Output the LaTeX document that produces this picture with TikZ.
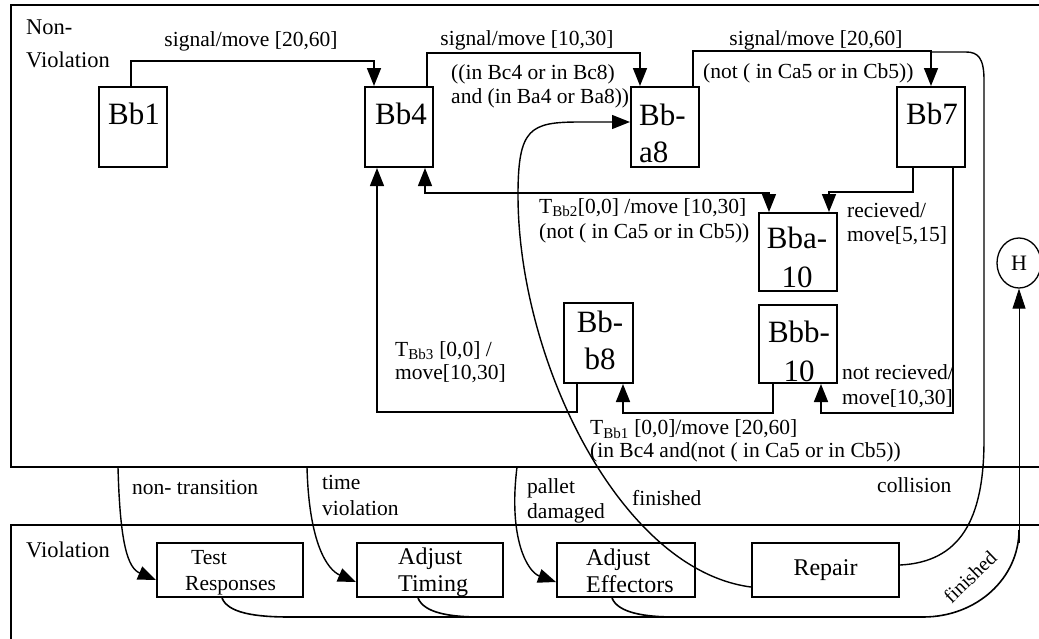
\documentclass[tikz,border=0pt]{standalone}
\usepackage{fontspec}
\setmainfont{Liberation Serif}
\usetikzlibrary{arrows.meta,shapes.geometric}
\begin{document}
\begin{tikzpicture}[x=1pt,y=-1pt,
  bigtri/.tip={Triangle[length=18pt,width=14pt]},
  frame/.style={line width=2.2pt},
  statebox/.style={draw, line width=2pt, inner sep=0pt, minimum width=68pt, minimum height=80pt},
  actbox/.style={draw, line width=2pt, inner sep=0pt, minimum height=54pt},
  bigtxt/.style={font=\fontsize{31}{37}\selectfont, inner sep=0pt, align=center},
  acttxt/.style={font=\fontsize{24}{27}\selectfont, inner sep=0pt, align=left, anchor=west},
  lbl/.style={font=\fontsize{21.5}{24}\selectfont, inner sep=0pt, align=left},
  conn/.style={line width=1.6pt, -bigtri},
  curve/.style={line width=1.4pt},
]
\useasboundingbox (0,0) rectangle (1039,638);
\clip (0,0) rectangle (1039,638);

% frames
\draw[frame] (1060,5) -- (11,5) -- (11,467) -- (1060,467);
\draw[frame] (1060,525) -- (11,525) -- (11,660);
\node[lbl, anchor=west, font=\fontsize{22.5}{33}\selectfont] (nvt) at (26,44) {Non-\\Violation};
\node[lbl, anchor=west, font=\fontsize{22.5}{26}\selectfont] (vt) at (26,550) {Violation};

% states
\node[statebox] (bb1) at (133,127) {};
\node[statebox] (bb4) at (399,127) {};
\node[statebox] (bba8) at (665,127) {};
\node[statebox] (bb7) at (931,127) {};
\node[statebox, minimum width=78pt, minimum height=78pt] (bba10) at (798,252) {};
\node[statebox, minimum width=78pt, minimum height=78pt] (bbb10) at (798,344) {};
\node[statebox, minimum width=69pt] (bbb8) at (598.5,343) {};
\node[draw, ellipse, line width=1.3pt, minimum width=44pt, minimum height=50pt, inner sep=0pt,
      font=\fontsize{22}{24}\selectfont] (hist) at (1019,263) {H};

\node[bigtxt] (bb1t) at (134,114) {Bb1};
\node[bigtxt] (bb4t) at (401,114) {Bb4};
\node[bigtxt, align=left, anchor=west] (bba8t) at (639,133) {Bb-\\a8};
\node[bigtxt] (bb7t) at (932,114) {Bb7};
\node[bigtxt, font=\fontsize{31}{39}\selectfont] (bba10t) at (797,257) {Bba-\\10};
\node[bigtxt, font=\fontsize{31}{39}\selectfont] (bbb10t) at (799,351) {Bbb-\\10};
\node[bigtxt] (bbb8t) at (600,340) {Bb-\\b8};

% violation activities
\node[actbox, minimum width=146pt] (test) at (230,570) {};
\node[actbox, minimum width=146pt] (timing) at (430,570) {};
\node[actbox, minimum width=138pt] (effect) at (626,570) {};
\node[actbox, minimum width=147pt, font=\fontsize{24}{27}\selectfont] (repair) at (825.5,570) {Repair};
\node[lbl, anchor=west, font=\fontsize{21.5}{26}\selectfont] (testt) at (185,573) {\hspace{6pt}Test\\Responses};
\node[acttxt] (timingt) at (398,572) {Adjust\\Timing};
\node[acttxt] (effectt) at (586,571) {Adjust\\Effectors};

% transitions inside Non-Violation
\draw[conn] ([xshift=-2pt]bb1.north) -- ++(0,-25) -| ([xshift=-25pt]bb4.north);
\draw[conn] ([xshift=28pt]bb4.north) -- ++(0,-33) -| ([xshift=-25pt]bba8.north);
\draw[conn] ([xshift=28pt]bba8.north) -- ++(0,-35) -| (bb7.north);
\draw[conn] ([xshift=-18pt]bb7.south) -- ++(0,24) -| ([xshift=31pt]bba10.north);
\draw[conn] ([xshift=22pt]bb7.south) -- ++(0,245) -| ([xshift=23pt]bbb10.south);
\draw[line width=1.3pt, bigtri-bigtri] ([xshift=26pt]bb4.south) -- ++(0,25) -| ([xshift=-29pt]bba10.north);
\draw[conn, line width=1.4pt] ([xshift=-21.5pt]bbb8.south) -- ++(0,28) -| ([xshift=-22pt]bb4.south);
\draw[conn] ([xshift=-25pt]bbb10.south) -- ++(0,29) -| ([xshift=24.5pt]bbb8.south);

% labels inside Non-Violation
\node[lbl] (l1) at (251,41) {signal/move [20,60]};
\node[lbl] (l2) at (527,40) {signal/move [10,30]};
\node[lbl, anchor=west] (l3) at (451,86) {((in Bc4 or in Bc8)\\and (in Ba4 or Ba8))};
\node[lbl] (l4) at (816,40) {signal/move [20,60]};
\node[lbl, anchor=west] (l5) at (703,73) {(not ( in Ca5 or in Cb5))};
\node[lbl, anchor=west, font=\fontsize{21.5}{25}\selectfont] (l6) at (539,221) {T\textsubscript{Bb2}[0,0] /move [10,30]\\(not ( in Ca5 or in Cb5))};
\node[lbl, anchor=west] (l7) at (847,224) {recieved/\\move[5,15]};
\node[lbl, anchor=west, font=\fontsize{21.5}{23}\selectfont] (l8) at (395,362) {T\textsubscript{Bb3} [0,0] /\\move[10,30]};
\node[lbl, anchor=west, font=\fontsize{21.5}{25}\selectfont] (l9) at (842,386) {not recieved/\\move[10,30]};
\node[lbl, anchor=west, font=\fontsize{21.5}{22.5}\selectfont] (l10) at (590,441) {T\textsubscript{Bb1} [0,0]/move [20,60]\\(in Bc4 and(not ( in Ca5 or in Cb5))};

% transitions between regions
\coordinate (ntsrc) at (118,467);
\coordinate (tvsrc) at (307,467);
\coordinate (pdsrc) at (517,467);
\coordinate (hsrc) at (1019,543);
\draw[curve, -bigtri] (ntsrc) .. controls (120,545) and (128,568) .. ([yshift=-10pt]test.west);
\draw[curve, -bigtri] (tvsrc) .. controls (309,545) and (328,570) .. ([yshift=-12pt]timing.west);
\draw[curve, -bigtri] (pdsrc) .. controls (508,540) and (528,572) .. ([yshift=-12pt]effect.west);
\draw[curve, -bigtri] ([yshift=-17pt]repair.west) .. controls (620,570) and (518,360) .. (518,195)
      .. controls (518,128) and (530,122) .. (580,122) -- ([yshift=5pt]bba8.west);
\draw[curve] ([yshift=5pt]repair.east) .. controls (960,562) and (984,520) .. (984,440)
      -- (984,80) .. controls (984,58) and (978,52) .. (966,52) -- (931,52);
\draw[curve, line width=1.6pt] ([xshift=-8pt]test.south) .. controls +(6,15) and +(-35,0) .. (290,617)
      -- (923,617) .. controls (977,617) and (1019,578) .. (1019,530);
\draw[curve, line width=1.6pt] ([xshift=-12pt]timing.south) .. controls +(6,15) and +(-30,0) .. (480,617);
\draw[curve, line width=1.6pt] ([xshift=-14pt]effect.south) .. controls +(6,15) and +(-30,0) .. (675,617);
\draw[line width=1pt, -{Triangle[length=20pt,width=13pt]}] (hsrc) -- (hist.south);

% labels between regions
\node[lbl, anchor=west] (m1) at (132,487) {non- transition};
\node[lbl, anchor=west, font=\fontsize{21.5}{26}\selectfont] (m2) at (322,495) {time\\violation};
\node[lbl, anchor=west, font=\fontsize{21.5}{25}\selectfont] (m3) at (527,501) {pallet\\damaged};
\node[lbl, anchor=west] (m4) at (632,498) {finished};
\node[lbl, anchor=west] (m5) at (877,485) {collision};
\node[lbl, rotate=44, font=\fontsize{20}{22}\selectfont] (m6) at (970,577) {finished};
\end{tikzpicture}
\end{document}
